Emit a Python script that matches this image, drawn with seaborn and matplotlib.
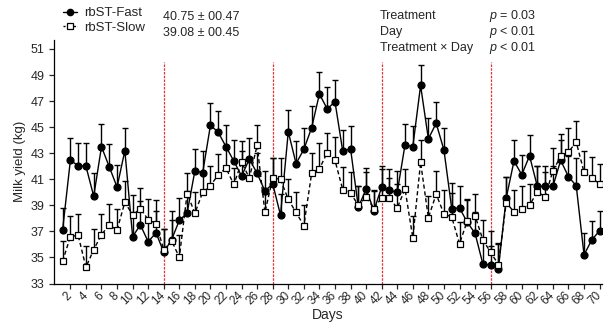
import numpy as np
import pandas as pd
import matplotlib
matplotlib.use("Agg")
import matplotlib.pyplot as plt
from matplotlib.lines import Line2D
import seaborn as sns

days = list(range(1, 71))

fast_mean = [37.1, 42.45, 42.05, 42.0, 39.7, 43.5, 41.95, 40.4, 43.2, 36.6,
             37.5, 36.2, 36.9, 35.4, 36.35, 37.85, 38.4, 41.65, 41.5, 45.15,
             44.6, 43.5, 42.4, 41.25, 42.55, 41.45, 40.1, 40.65, 38.25, 44.65,
             42.2, 43.3, 44.95, 47.55, 46.4, 46.95, 43.15, 43.35, 38.85, 40.25,
             38.6, 40.4, 40.15, 40.0, 43.65, 43.5, 48.2, 44.1, 45.3, 43.25,
             38.75, 38.8, 37.7, 36.85, 34.5, 34.4, 34.15, 39.55, 42.4, 41.35,
             42.8, 40.45, 40.45, 40.45, 42.45, 41.2, 40.5, 35.2, 36.35, 37.05]
fast_sem = [1.7, 1.7, 1.75, 1.75, 1.75, 1.75, 1.75, 1.7, 1.7, 1.9,
            1.8, 1.8, 1.7, 1.75, 2.2, 1.7, 1.7, 1.7, 1.7, 1.7,
            1.65, 1.7, 1.65, 1.9, 1.65, 1.55, 1.55, 2.0, 1.65, 1.7,
            1.75, 1.65, 1.7, 1.7, 1.7, 1.7, 1.65, 1.7, 1.65, 1.65,
            1.6, 1.65, 1.6, 1.65, 1.6, 1.55, 1.6, 1.6, 1.6, 1.7,
            2.0, 1.65, 1.7, 1.6, 1.85, 1.45, 1.95, 1.6, 1.65, 1.55,
            1.6, 1.55, 1.55, 1.6, 1.6, 1.6, 2.1, 1.65, 1.45, 1.55]

slow_mean = [34.7, 36.6, 36.7, 34.25, 35.6, 36.75, 37.5, 37.1, 39.25, 38.25,
             38.75, 37.9, 37.6, 35.6, 36.3, 35.0, 39.9, 38.4, 40.0, 40.5,
             41.35, 41.85, 40.6, 42.3, 41.1, 43.6, 38.45, 41.1, 41.0, 39.45,
             38.45, 37.45, 41.45, 41.8, 43.05, 42.45, 40.2, 39.95, 39.0, 39.65,
             38.75, 39.6, 39.55, 38.8, 40.25, 36.5, 42.3, 38.05, 39.85, 38.35,
             38.1, 36.05, 37.8, 38.2, 36.35, 35.4, 34.45, 39.2, 38.5, 38.75,
             39.0, 40.05, 39.65, 41.65, 42.75, 43.1, 43.85, 41.55, 41.1, 40.65]
slow_sem = [1.6, 1.55, 1.6, 1.6, 1.6, 1.6, 1.6, 1.6, 1.6, 1.55,
            1.6, 1.55, 1.8, 1.6, 1.6, 1.7, 1.6, 1.6, 1.5, 1.55,
            1.6, 1.6, 1.3, 1.6, 1.6, 1.6, 1.45, 1.5, 1.6, 1.6,
            1.6, 1.55, 1.6, 2.0, 1.5, 1.8, 1.75, 1.6, 1.5, 1.9,
            1.35, 2.2, 1.55, 1.85, 1.55, 1.7, 1.7, 1.7, 1.75, 1.8,
            1.85, 1.7, 1.7, 1.7, 1.5, 1.65, 1.55, 2.0, 1.7, 1.7,
            1.65, 1.95, 1.9, 1.75, 1.75, 1.8, 1.65, 1.6, 1.6, 1.5]

period_ends = [14, 28, 42, 56]
groups = ["rbST-Fast", "rbST-Slow"]
group_stats = ["40.75 \u00b1 00.47", "39.08 \u00b1 00.45"]
effects = ["Treatment", "Day", "Treatment \u00d7 Day"]
p_texts = ["$p$ = 0.03", "$p$ < 0.01", "$p$ < 0.01"]

df = pd.DataFrame({
    "Day": days * 2,
    "Yield": fast_mean + slow_mean,
    "SEM": fast_sem + slow_sem,
    "Group": [groups[0]] * len(days) + [groups[1]] * len(days),
})

sns.set_style("ticks")
plt.rcParams["font.family"] = ["Liberation Sans", "DejaVu Sans"]
plt.rcParams["mathtext.fontset"] = "custom"
plt.rcParams["mathtext.it"] = "Liberation Sans:italic"

fig = plt.figure(figsize=(6.07, 3.24), dpi=100)
ax = fig.add_axes([0.089, 0.125, 0.902, 0.752])

# period boundaries
for d in period_ends:
    ax.vlines(d, 33, 50, colors="#e8303a", linestyles=(0, (2, 1)), linewidth=0.9, zorder=1)

styles = {
    groups[0]: dict(marker="o", ls="-", mfc="black", ms=5),
    groups[1]: dict(marker="s", ls=(0, (3, 2)), mfc="white", ms=5),
}

# upper error bars only
for g in groups:
    sub = df[df["Group"] == g]
    ax.errorbar(sub["Day"], sub["Yield"], yerr=[np.zeros(len(sub)), sub["SEM"]],
                fmt="none", ecolor="black", elinewidth=1.0, capsize=2.3, capthick=1.0,
                zorder=2)

for g in groups:
    sub = df[df["Group"] == g]
    st = styles[g]
    sns.lineplot(data=sub, x="Day", y="Yield", ax=ax, color="black", lw=1.0,
                 linestyle=st["ls"], marker=st["marker"], markersize=st["ms"],
                 markerfacecolor=st["mfc"], markeredgecolor="black",
                 markeredgewidth=0.9, zorder=3, legend=False)

ax.set_xlim(-0.1, 70.25)
ax.set_ylim(33, 51.7)
ax.set_yticks(range(33, 52, 2))
ax.set_xticks(range(2, 71, 2))
ax.set_xticklabels([str(t) for t in range(2, 71, 2)], rotation=45, ha="right",
                   va="center", rotation_mode="anchor", fontsize=8.5)
ax.tick_params(axis="y", labelsize=9, length=3.5, width=0.9)
ax.tick_params(axis="x", length=3.5, width=0.9, pad=4)
ax.set_xlabel("Days", fontsize=10, labelpad=0)
ax.set_ylabel("Milk yield (kg)", fontsize=9.5, labelpad=3)
sns.despine(ax=ax)
for s in ["left", "bottom"]:
    ax.spines[s].set_linewidth(0.9)
    ax.spines[s].set_color("black")

handles = [
    Line2D([], [], color="black", lw=1.0, ls="-", marker="o", ms=4.5, mfc="black",
           mec="black"),
    Line2D([], [], color="black", lw=1.0, ls=(0, (1.5, 1)), marker="s", ms=4.5,
           mfc="white", mec="black", mew=0.9),
]
fig.legend(handles, groups, loc="upper left", bbox_to_anchor=(0.095, 0.995),
           frameon=False, fontsize=9.5, handlelength=1.1, handletextpad=0.5,
           labelspacing=0.2, borderaxespad=0)

for i, t in enumerate(group_stats):
    fig.text(163 / 607, 1 - (17 + 16 * i) / 324, t, fontsize=9, va="center", ha="left")
for i, (e, p) in enumerate(zip(effects, p_texts)):
    fig.text(380 / 607, 1 - (16 + 16 * i) / 324, e, fontsize=9, va="center", ha="left")
    fig.text(489 / 607, 1 - (16 + 16 * i) / 324, p, fontsize=9, va="center", ha="left")

fig.savefig("out.png", dpi=100)
